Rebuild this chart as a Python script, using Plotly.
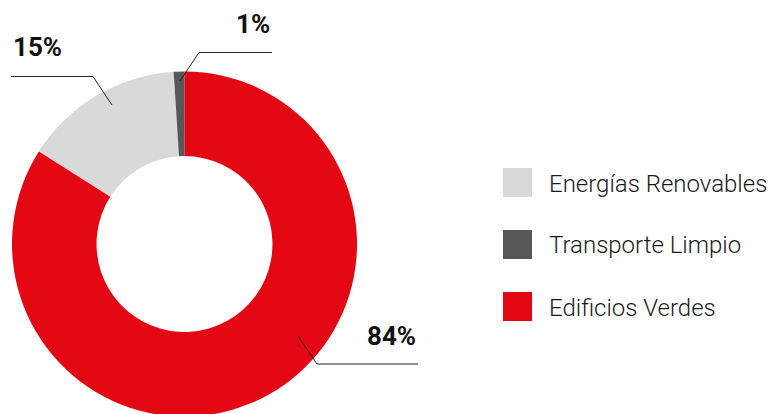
import plotly.graph_objects as go

# Distribución de fondos por categoría (%)
categorias = ["Energías Renovables", "Transporte Limpio", "Edificios Verdes"]
porcentajes = [15, 1, 84]
colores = ["#D9D9D9", "#575757", "#E30613"]

W, H = 774, 420          # lienzo algo más alto que la ventana: el anillo queda recortado abajo
CX, CY, R = 184.5, 244, 172.5   # centro y radio del anillo, en píxeles
HOLE = 0.51

def px(x):
    return x / W

def py(y):
    return (H - y) / H

fig = go.Figure()

# el primer sector arranca donde termina la suma de los dos pequeños, girando en sentido horario
inicio = -360 * (porcentajes[0] + porcentajes[1]) / sum(porcentajes)

fig.add_trace(go.Pie(
    labels=categorias,
    values=porcentajes,
    marker=dict(colors=colores, line=dict(width=0)),
    hole=HOLE,
    sort=False,
    direction="clockwise",
    rotation=inicio,
    textinfo="none",
    hoverinfo="label+percent",
    showlegend=False,
    domain=dict(x=[px(CX - R), px(CX + R)], y=[py(CY + R), py(CY - R)]),
))

# etiquetas de porcentaje con líneas guía (puntos en píxeles)
guias = {
    "Energías Renovables": dict(pts=[(112, 105), (93, 76.5), (11, 76.5)],
                                txt=(11, 47), anchor="left"),
    "Transporte Limpio": dict(pts=[(180, 81), (199, 52.5), (272, 52.5)],
                              txt=(272, 24), anchor="right"),
    "Edificios Verdes": dict(pts=[(298, 336), (317, 364), (418, 364)],
                             txt=(418, 336), anchor="right"),
}

shapes = []
annotations = []
for cat, val in zip(categorias, porcentajes):
    g = guias[cat]
    path = "M " + " L ".join(f"{px(x)},{py(y)}" for x, y in g["pts"])
    shapes.append(dict(type="path", path=path, xref="paper", yref="paper",
                       line=dict(color="#222222", width=1)))
    tx, ty = g["txt"]
    annotations.append(dict(text=f"<b>{val}%</b>", x=px(tx), y=py(ty),
                            xref="paper", yref="paper", showarrow=False,
                            xanchor=g["anchor"], yanchor="middle",
                            font=dict(family="Roboto", size=26, color="#111111")))

# leyenda: cuadrados de color y nombres
LEG_X, LEG_Y0, LEG_DY, SW = 503, 182.5, 62, 29
for i, (cat, col) in enumerate(zip(categorias, colores)):
    yc = LEG_Y0 + i * LEG_DY
    shapes.append(dict(type="rect", xref="paper", yref="paper",
                       x0=px(LEG_X), x1=px(LEG_X + SW),
                       y0=py(yc + SW / 2), y1=py(yc - SW / 2),
                       fillcolor=col, line=dict(width=0)))
    annotations.append(dict(text=cat, x=px(LEG_X + 44), y=py(yc + 1),
                            xref="paper", yref="paper", showarrow=False,
                            xanchor="left", yanchor="middle",
                            font=dict(family="Roboto", size=24, color="#1a1a1a",
                                      weight=300)))

fig.update_layout(
    width=W, height=H,
    margin=dict(l=0, r=0, t=0, b=0),
    paper_bgcolor="white",
    plot_bgcolor="white",
    shapes=shapes,
    annotations=annotations,
)

fig.write_html(
    "out.html",
    post_script="document.body.style.margin='0';document.body.style.overflow='hidden';",
)
